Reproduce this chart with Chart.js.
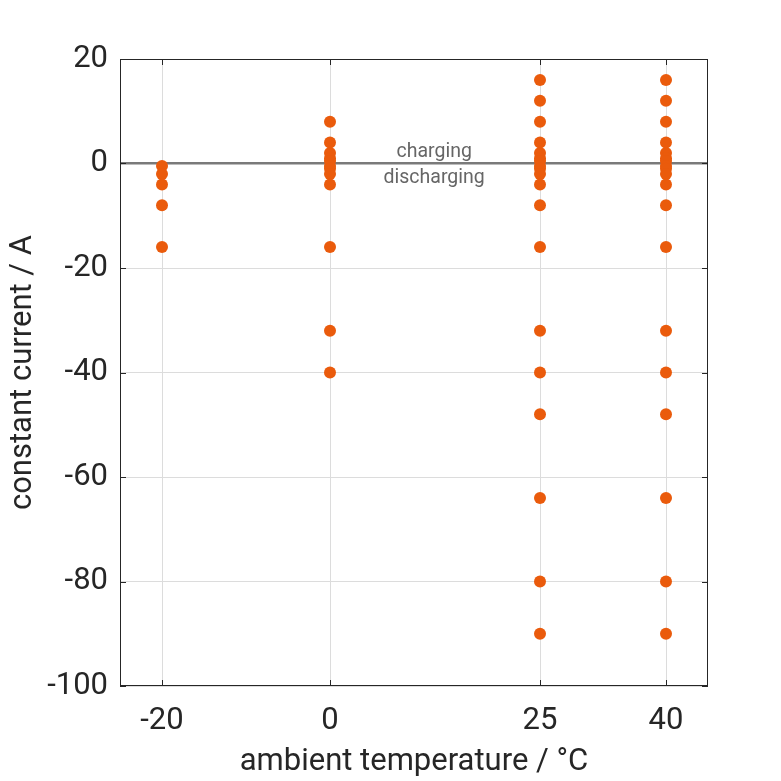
<!DOCTYPE html>
<html lang="en">
<head>
<meta charset="UTF-8">
<title>constant current tests</title>
<style>
  body { margin: 0; background: #fff; }
  .chart-box { width: 781px; height: 781px; }
</style>
</head>
<body>
<div class="chart-box">
  <canvas id="myChart"></canvas>
</div>
<script src="https://cdn.jsdelivr.net/npm/chart.js"></script>
<script>

// ambient temperatures tested (°C)
const temps = [-20, 0, 25, 40];
// constant currents per temperature (A), positive = charging
const currentsM20 = [-0.5, -2, -4, -8, -16];
const currents0 = [8, 4, 2, 1, 0.5, -0.5, -1, -2, -4, -16, -32, -40];
const currents25 = [16, 12, 8, 4, 2, 1, 0.5, -0.5, -1, -2, -4, -8, -16, -32, -40, -48, -64, -80, -90];
const currents40 = [16, 12, 8, 4, 2, 1, 0.5, -0.5, -1, -2, -4, -8, -16, -32, -40, -48, -64, -80, -90];
const xTicks = [-20, 0, 25, 40];
const yTicks = [-100, -80, -60, -40, -20, 0, 20];

const allCurrents = [currentsM20, currents0, currents25, currents40];
const points = [];
temps.forEach(function (t, i) {
  allCurrents[i].forEach(function (c) {
    points.push({ x: t, y: c });
  });
});

const txtFont = 'Roboto, "DejaVu Sans", sans-serif';

// box around the plot, inward ticks, charging / discharging labels
const framePlugin = {
  id: 'frame',
  afterDatasetsDraw(chart) {
    const c = chart.ctx;
    const a = chart.chartArea;
    const xs = chart.scales.x, ys = chart.scales.y;
    c.save();
    c.strokeStyle = '#262626';
    c.lineWidth = 1;
    c.strokeRect(a.left + 0.5, a.top + 0.5, a.right - a.left - 1, a.bottom - a.top - 1);
    c.beginPath();
    xTicks.forEach(function (v) {
      const px = Math.round(xs.getPixelForValue(v)) + 0.5;
      c.moveTo(px, a.bottom); c.lineTo(px, a.bottom - 6);
      c.moveTo(px, a.top); c.lineTo(px, a.top + 6);
    });
    yTicks.forEach(function (v) {
      const py = Math.round(ys.getPixelForValue(v)) + 0.5;
      c.moveTo(a.left, py); c.lineTo(a.left + 6, py);
      c.moveTo(a.right, py); c.lineTo(a.right - 6, py);
    });
    c.stroke();

    c.fillStyle = '#666';
    c.font = '19.5px ' + txtFont;
    c.textAlign = 'center';
    c.textBaseline = 'middle';
    const lx = xs.getPixelForValue(12.4);
    c.fillText('charging', lx, ys.getPixelForValue(2.2));
    c.fillText('discharging', lx, ys.getPixelForValue(-2.8));
    c.restore();
  }
};

const ctx = document.getElementById('myChart');
const chart = new Chart(ctx, {
  type: 'scatter',
  data: {
    datasets: [{
      label: 'tests',
      data: points,
      backgroundColor: '#EA5B0C',
      borderColor: '#EA5B0C',
      pointRadius: 6,
      pointHoverRadius: 6,
      borderWidth: 0
    }]
  },
  options: {
    responsive: true,
    maintainAspectRatio: false,
    animation: false,
    layout: { padding: { top: 59, right: 73, bottom: 0, left: 0 } },
    plugins: {
      legend: { display: false },
      tooltip: { enabled: false }
    },
    scales: {
      x: {
        type: 'linear',
        min: -25,
        max: 45,
        afterBuildTicks: function (scale) {
          scale.ticks = xTicks.map(function (v) { return { value: v }; });
        },
        afterFit: function (scale) { scale.height = 95; },
        grid: { color: '#dcdcdc', drawTicks: false },
        border: { display: false },
        ticks: {
          color: '#262626',
          font: { family: txtFont, size: 31 },
          padding: 17,
          maxRotation: 0
        },
        title: {
          display: true,
          text: 'ambient temperature / °C',
          color: '#262626',
          font: { family: txtFont, size: 31 },
          padding: { top: 0, bottom: 0 }
        }
      },
      y: {
        min: -100,
        max: 20,
        afterBuildTicks: function (scale) {
          scale.ticks = yTicks.map(function (v) { return { value: v }; });
        },
        afterFit: function (scale) { scale.width = 120; },
        grid: {
          drawTicks: false,
          color: function (c) { return c.tick && c.tick.value === 0 ? '#7a7a7a' : '#dcdcdc'; },
          lineWidth: function (c) { return c.tick && c.tick.value === 0 ? 2.5 : 1; }
        },
        border: { display: false },
        ticks: {
          color: '#262626',
          font: { family: txtFont, size: 31 },
          padding: 12
        },
        title: {
          display: true,
          text: 'constant current / A',
          color: '#262626',
          font: { family: txtFont, size: 31 },
          padding: { top: 5, bottom: 0 }
        }
      }
    }
  },
  plugins: [framePlugin]
});

</script>
</body>
</html>
